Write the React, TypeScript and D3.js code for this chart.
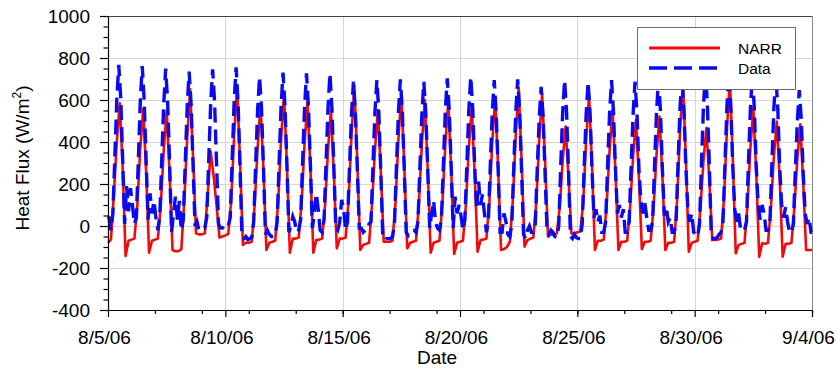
import { useEffect, useRef } from 'react';
import * as d3 from 'd3';

// Heat flux, NARR (3-hourly) vs measured data (2-hourly), 8/5/06 - 9/4/06

const WIDTH = 838;
const HEIGHT = 373;
const FONT = 'Liberation Sans, Arial, Helvetica, sans-serif';

const START_DATE = new Date(Date.UTC(2006, 7, 5));

const narrHours = [0, 3, 6, 9, 12, 15, 18, 21];
const dataHours = [1, 3, 5, 7, 9, 11, 13, 15, 17, 19, 21, 23];

// one row per day, W/m2
const narrDaily = [
  [-80, -65, 150, 400, 584, 280, -143, -70],
  [-65, -60, 100, 370, 557, 260, -127, -70],
  [-65, -60, 100, 360, 548, 250, -114, -120],
  [-120, -110, 120, 420, 651, 330, -35, -40],
  [-40, -35, 150, 354, 240, 100, -55, -50],
  [-45, -38, 120, 430, 671, 310, -90, -80],
  [-80, -75, 100, 370, 576, 270, -114, -80],
  [-75, -70, 110, 410, 632, 290, -127, -60],
  [-60, -55, 110, 390, 592, 280, -127, -67],
  [-65, -60, 100, 360, 552, 250, -106, -60],
  [-60, -55, 120, 430, 671, 300, -114, -90],
  [-85, -80, 100, 360, 552, 260, -75, -75],
  [-75, -70, 110, 410, 632, 290, -106, -80],
  [-75, -70, 110, 390, 600, 270, -127, -80],
  [-75, -70, 110, 390, 592, 270, -133, -80],
  [-75, -70, 100, 370, 560, 250, -122, -67],
  [-65, -60, 110, 400, 608, 280, -114, -110],
  [-100, -75, 120, 430, 660, 310, -98, -67],
  [-60, -55, 110, 410, 629, 310, -50, -40],
  [-40, -35, 90, 310, 473, 230, -35, -35],
  [-30, -27, 110, 410, 624, 290, -114, -70],
  [-70, -65, 100, 360, 552, 260, -114, -75],
  [-75, -70, 90, 330, 505, 230, -110, -75],
  [-75, -70, 90, 340, 521, 240, -114, -80],
  [-80, -75, 120, 450, 690, 320, -122, -80],
  [-75, -70, 90, 310, 466, 220, -67, -67],
  [-65, -60, 130, 460, 700, 320, -130, -90],
  [-85, -80, 100, 370, 560, 250, -146, -82],
  [-85, -80, 90, 330, 497, 220, -146, -85],
  [-85, -80, 90, 320, 484, 210, -114, -114],
];
const narrFinal = -114;

const dataInitial = 45;
const dataDaily = [
  [40, -20, 60, 330, 600, 767, 610, 320, 10, 190, 70, 180],
  [100, 10, 40, 310, 590, 762, 600, 310, 30, 155, 60, 120],
  [40, -20, 50, 320, 580, 750, 590, 300, -30, 60, 140, 30],
  [120, -20, 30, 300, 570, 735, 580, 290, 0, 20, -20, -20],
  [-10, -10, 40, 310, 580, 746, 590, 300, 10, -10, -10, 0],
  [10, 0, 40, 320, 590, 756, 590, 290, -50, -60, -50, -65],
  [-60, -55, 20, 290, 550, 711, 560, 280, -40, -20, -40, -50],
  [-50, -45, 20, 300, 570, 730, 570, 290, -30, 0, 45, 20],
  [-30, -20, 30, 300, 560, 727, 570, 290, -10, 60, 155, 80],
  [-20, -30, 30, 300, 560, 727, 560, 280, -10, -20, 20, 124],
  [80, -20, 20, 280, 530, 687, 540, 270, -10, -10, -30, -20],
  [-20, 10, 20, 290, 540, 695, 540, 260, -50, -67, -60, -60],
  [-60, -50, 10, 280, 540, 698, 550, 270, -30, -45, -30, -20],
  [-20, -30, 20, 280, 530, 687, 540, 270, -10, 60, 120, 20],
  [-10, -20, 30, 290, 550, 703, 550, 280, -10, 140, 60, 100],
  [50, -20, 30, 290, 550, 711, 560, 290, 80, 211, 100, 150],
  [60, -30, 20, 290, 540, 695, 540, 270, -30, -30, 60, 20],
  [-40, -50, 10, 280, 540, 698, 550, 260, -40, -60, -20, 0],
  [-30, -30, 10, 270, 510, 663, 520, 250, -20, -40, -20, -30],
  [-50, -55, 0, 280, 540, 695, 540, 260, -50, -60, -40, -55],
  [-60, -60, 10, 280, 530, 687, 540, 270, 40, 80, 20, 50],
  [-30, -30, 20, 290, 540, 695, 540, 270, 60, 100, 40, 80],
  [-30, -30, 20, 280, 530, 687, 540, 270, 120, 60, 110, 40],
  [-20, -20, 20, 290, 540, 700, 550, 270, 50, 90, 20, 40],
  [-30, -30, 20, 300, 560, 720, 560, 280, 80, 20, 60, -30],
  [-40, -50, 10, 300, 570, 740, 580, 290, -50, -60, -60, -55],
  [-40, -30, 20, 300, 570, 730, 570, 280, 80, 20, 60, -20],
  [-20, -20, 20, 300, 560, 720, 560, 280, 100, 30, 100, 60],
  [-20, -20, 20, 300, 560, 720, 560, 280, 100, 40, 90, 20],
  [-30, -30, 10, 270, 500, 647, 510, 250, 60, 10, 40, -30],
];
const dataFinal = -30;

const xMajorDays = [0, 5, 10, 15, 20, 25, 30];
const xTickLabels = ['8/5/06', '8/10/06', '8/15/06', '8/20/06', '8/25/06', '8/30/06', '9/4/06'];
const xMinorDays = [2, 4, 6, 8, 10, 12, 14, 16, 18, 20, 22, 24, 26, 28, 30];
const yMajorTicks = [-400, -200, 0, 200, 400, 600, 800, 1000];
const yMinorTicks = [-350, -300, -250, -150, -100, -50, 50, 100, 150, 250, 300, 350, 450, 500, 550, 650, 700, 750, 850, 900, 950];

const seriesNames = ['NARR', 'Data'];
const seriesColors = ['#f00a0a', '#0a0af0'];

type Pt = { t: Date; v: number };

function at(day: number, hour: number): Date {
  return d3.utcHour.offset(START_DATE, day * 24 + hour);
}

export default function App() {
  const svgRef = useRef<SVGSVGElement | null>(null);

  useEffect(() => {
    const svg = d3.select(svgRef.current);
    svg.selectAll('*').remove();

    const margin = { top: 16, right: 26, bottom: 63, left: 108 };
    const x = d3.scaleUtc()
      .domain([START_DATE, at(30, 0)])
      .range([margin.left, WIDTH - margin.right]);
    const y = d3.scaleLinear()
      .domain([-400, 1000])
      .range([HEIGHT - margin.bottom, margin.top]);

    const narr: Pt[] = narrDaily.flatMap((vals, d) => vals.map((v, i) => ({ t: at(d, narrHours[i]), v })));
    narr.push({ t: at(30, 0), v: narrFinal });
    const data: Pt[] = [{ t: at(0, 0), v: dataInitial }].concat(
      dataDaily.flatMap((vals, d) => vals.map((v, i) => ({ t: at(d, dataHours[i]), v })))
    );
    data.push({ t: at(30, 0), v: dataFinal });

    const [x0, x1] = x.range();
    const [yb, yt] = y.range();

    // gridlines
    const grid = svg.append('g').attr('stroke', '#d6d6d6').attr('stroke-width', 1);
    grid.selectAll('line.h')
      .data(yMajorTicks.filter(v => v > -400 && v < 1000))
      .join('line')
      .attr('x1', x0).attr('x2', x1)
      .attr('y1', d => Math.round(y(d)) + 0.5).attr('y2', d => Math.round(y(d)) + 0.5);
    grid.selectAll('line.v')
      .data(xMajorDays.filter(d => d > 0 && d < 30))
      .join('line')
      .attr('y1', yt).attr('y2', yb)
      .attr('x1', d => Math.round(x(at(d, 0))) + 0.5).attr('x2', d => Math.round(x(at(d, 0))) + 0.5);

    // frame top / right
    svg.append('line').attr('x1', x0).attr('x2', x1).attr('y1', yt + 0.5).attr('y2', yt + 0.5)
      .attr('stroke', '#444').attr('stroke-width', 1);
    svg.append('line').attr('x1', x1 + 0.5).attr('x2', x1 + 0.5).attr('y1', yt).attr('y2', yb)
      .attr('stroke', '#8a8a8a').attr('stroke-width', 1);

    // lines
    const line = d3.line<Pt>()
      .x(d => x(d.t))
      .y(d => y(d.v));

    svg.append('path')
      .datum(narr)
      .attr('d', line)
      .attr('fill', 'none')
      .attr('stroke', seriesColors[0])
      .attr('stroke-width', 2.6)
      .attr('stroke-linejoin', 'round');

    svg.append('path')
      .datum(data)
      .attr('d', line)
      .attr('fill', 'none')
      .attr('stroke', seriesColors[1])
      .attr('stroke-width', 3.4)
      .attr('stroke-dasharray', '15,7');

    // axes
    const yMinor = svg.append('g')
      .attr('transform', 'translate(' + x0 + ',0)')
      .call(d3.axisLeft(y).tickValues(yMinorTicks).tickSize(4.5).tickSizeOuter(0).tickFormat(() => ''));
    yMinor.select('.domain').remove();

    const yAxis = svg.append('g')
      .attr('transform', 'translate(' + x0 + ',0)')
      .call(d3.axisLeft(y).tickValues(yMajorTicks).tickSize(8).tickSizeOuter(0).tickPadding(10).tickFormat(d => String(d)));
    yAxis.attr('font-size', 19).attr('font-family', FONT);
    yAxis.selectAll('text').attr('fill', '#000');

    const xMinor = svg.append('g')
      .attr('transform', 'translate(0,' + yb + ')')
      .call(d3.axisBottom(x).tickValues(xMinorDays.map(d => at(d, 0))).tickSize(4).tickSizeOuter(0).tickFormat(() => ''));
    xMinor.select('.domain').remove();

    const xAxis = svg.append('g')
      .attr('transform', 'translate(0,' + yb + ')')
      .call(d3.axisBottom(x)
        .tickValues(xMajorDays.map(d => at(d, 0)))
        .tickSize(7)
        .tickSizeOuter(0)
        .tickPadding(14)
        .tickFormat((_, i) => xTickLabels[i]));
    xAxis.attr('font-size', 19).attr('font-family', FONT);
    xAxis.selectAll('text').attr('fill', '#000').attr('dx', -4);

    svg.selectAll('.domain').attr('stroke', '#000').attr('stroke-width', 1.2);
    svg.selectAll('.tick line').attr('stroke', '#000').attr('stroke-width', 1.2);

    // axis titles
    svg.append('text')
      .attr('x', 437)
      .attr('y', 364)
      .attr('text-anchor', 'middle')
      .attr('font-size', 19)
      .attr('font-family', FONT)
      .text('Date');

    const yTitle = svg.append('text')
      .attr('transform', 'translate(29,158) rotate(-90)')
      .attr('text-anchor', 'middle')
      .attr('font-size', 19)
      .attr('font-family', FONT);
    yTitle.append('tspan').text('Heat Flux (W/m');
    yTitle.append('tspan').attr('font-size', 12).attr('dy', -8).text('2');
    yTitle.append('tspan').attr('dy', 8).text(')');

    // legend
    const lg = svg.append('g').attr('transform', 'translate(637,27)');
    lg.append('rect')
      .attr('x', 0.5).attr('y', 0.5)
      .attr('width', 158).attr('height', 62)
      .attr('fill', '#fff')
      .attr('stroke', '#6a6a6a')
      .attr('stroke-width', 1);
    seriesNames.forEach((name, i) => {
      const ly = 21 + i * 20;
      lg.append('line')
        .attr('x1', 12).attr('x2', 83)
        .attr('y1', ly).attr('y2', ly)
        .attr('stroke', seriesColors[i])
        .attr('stroke-width', i === 0 ? 2.8 : 3.6)
        .attr('stroke-dasharray', i === 0 ? null : '18,7');
      lg.append('text')
        .attr('x', 101)
        .attr('y', ly)
        .attr('dy', '0.36em')
        .attr('font-size', 15.5)
        .attr('font-family', FONT)
        .text(name);
    });
  }, []);

  return (
    <div style={{ position: 'absolute', left: 0, top: 0 }}>
      <svg ref={svgRef} width={WIDTH} height={HEIGHT} style={{ display: 'block', background: '#fff' }} />
    </div>
  );
}
